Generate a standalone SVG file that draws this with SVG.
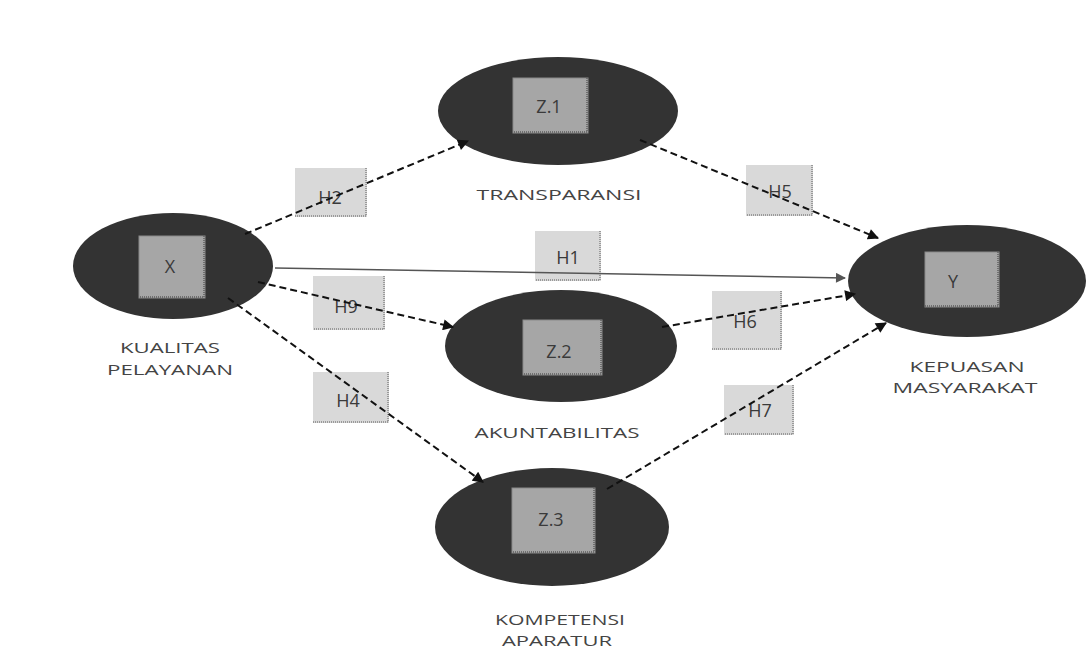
<svg xmlns="http://www.w3.org/2000/svg" width="1087" height="656" viewBox="0 0 1087 656">
<style>
.ell{fill:#333333}
.box{fill:#a6a6a6;stroke:#8a8a8a;stroke-width:1}
.edge{stroke:#6e6e6e;stroke-width:2;stroke-dasharray:1 1;fill:none}
.lbox{fill:#d9d9d9}
.ledge{stroke:#9a9a9a;stroke-width:2;stroke-dasharray:1 1;fill:none}
.t{font-family:"Open Sans","Noto Sans",sans-serif;font-size:15px;fill:#444444;text-anchor:middle}
.bt{font-family:"Open Sans","Noto Sans",sans-serif;font-size:18px;fill:#3a3a3a;text-anchor:middle}
.dash{stroke:#111111;stroke-width:2;stroke-dasharray:7 4;fill:none}
.solid{stroke:#555555;stroke-width:1.5;fill:none}
</style>
<defs>
<marker id="ah" viewBox="0 0 10 10" refX="9" refY="5" markerWidth="12" markerHeight="11" markerUnits="userSpaceOnUse" orient="auto">
<path d="M0,0 L10,5 L0,10 z" fill="#111111"/>
</marker>
<marker id="ahs" viewBox="0 0 10 10" refX="9" refY="5" markerWidth="11" markerHeight="10" markerUnits="userSpaceOnUse" orient="auto">
<path d="M0,0 L10,5 L0,10 z" fill="#555555"/>
</marker>
</defs>
<rect width="1087" height="656" fill="#ffffff"/>

<g id="labels">
<g id="lbl-H2"><rect class="lbox" x="295" y="168" width="72" height="49"/><polyline class="ledge" points="366,168 366,216 295,216"/><text class="bt" x="330" y="204">H2</text></g>
<g id="lbl-H5"><rect class="lbox" x="746" y="165" width="67" height="51"/><polyline class="ledge" points="812,165 812,215 746,215"/><text class="bt" x="780" y="198">H5</text></g>
<g id="lbl-H1"><rect class="lbox" x="535" y="231" width="66" height="50"/><polyline class="ledge" points="600,231 600,280 535,280"/><text class="bt" x="568" y="264">H1</text></g>
<g id="lbl-H9"><rect class="lbox" x="313" y="276" width="72" height="54"/><polyline class="ledge" points="384,276 384,329 313,329"/><text class="bt" x="346" y="313">H9</text></g>
<g id="lbl-H4"><rect class="lbox" x="313" y="372" width="76" height="51"/><polyline class="ledge" points="388,372 388,422 313,422"/><text class="bt" x="348" y="407">H4</text></g>
<g id="lbl-H6"><rect class="lbox" x="712" y="291" width="70" height="59"/><polyline class="ledge" points="781,291 781,349 712,349"/><text class="bt" x="745" y="328">H6</text></g>
<g id="lbl-H7"><rect class="lbox" x="724" y="385" width="70" height="50"/><polyline class="ledge" points="793,385 793,434 724,434"/><text class="bt" x="760" y="417">H7</text></g>
</g>

<g id="node-X">
<ellipse class="ell" cx="173" cy="266" rx="100" ry="53"/>
<rect class="box" x="139" y="236" width="66" height="62"/>
<polyline class="edge" points="204,236 204,297 139,297"/>
<text class="bt" x="170" y="273">X</text>
<text class="t" x="170" y="353" textLength="100" lengthAdjust="spacingAndGlyphs">KUALITAS</text>
<text class="t" x="170" y="375" textLength="126" lengthAdjust="spacingAndGlyphs">PELAYANAN</text>
</g>

<g id="node-Z1">
<ellipse class="ell" cx="558" cy="111" rx="120" ry="54"/>
<rect class="box" x="513" y="78" width="75" height="55"/>
<polyline class="edge" points="587,78 587,132 513,132"/>
<text class="bt" x="549" y="113">Z.1</text>
<text class="t" x="559" y="200" textLength="165" lengthAdjust="spacingAndGlyphs">TRANSPARANSI</text>
</g>

<g id="node-Z2">
<ellipse class="ell" cx="561" cy="346" rx="116" ry="56"/>
<rect class="box" x="523" y="320" width="79" height="55"/>
<polyline class="edge" points="601,320 601,374 523,374"/>
<text class="bt" x="559" y="358">Z.2</text>
<text class="t" x="557" y="438" textLength="165" lengthAdjust="spacingAndGlyphs">AKUNTABILITAS</text>
</g>

<g id="node-Z3">
<ellipse class="ell" cx="552" cy="527" rx="117" ry="59"/>
<rect class="box" x="512" y="488" width="83" height="65"/>
<polyline class="edge" points="594,488 594,552 512,552"/>
<text class="bt" x="551" y="526">Z.3</text>
<text class="t" x="560" y="625" textLength="130" lengthAdjust="spacingAndGlyphs">KOMPETENSI</text>
<text class="t" x="557" y="646" textLength="110" lengthAdjust="spacingAndGlyphs">APARATUR</text>
</g>

<g id="node-Y">
<ellipse class="ell" cx="967" cy="281" rx="119" ry="56"/>
<rect class="box" x="925" y="252" width="74" height="55"/>
<polyline class="edge" points="998,252 998,306 925,306"/>
<text class="bt" x="953" y="288">Y</text>
<text class="t" x="967" y="372" textLength="115" lengthAdjust="spacingAndGlyphs">KEPUASAN</text>
<text class="t" x="965" y="393" textLength="145" lengthAdjust="spacingAndGlyphs">MASYARAKAT</text>
</g>

<g id="connectors">
<line class="dash" x1="245" y1="234" x2="468" y2="141" marker-end="url(#ah)"/>
<line class="dash" x1="640" y1="140" x2="878" y2="238" marker-end="url(#ah)"/>
<line class="solid" x1="275" y1="268" x2="845" y2="278" marker-end="url(#ahs)"/>
<line class="dash" x1="258" y1="282" x2="453" y2="327" marker-end="url(#ah)"/>
<line class="dash" x1="228" y1="298" x2="483" y2="482" marker-end="url(#ah)"/>
<line class="dash" x1="662" y1="327" x2="855" y2="294" marker-end="url(#ah)"/>
<line class="dash" x1="607" y1="489" x2="886" y2="323" marker-end="url(#ah)"/>
</g>
</svg>
